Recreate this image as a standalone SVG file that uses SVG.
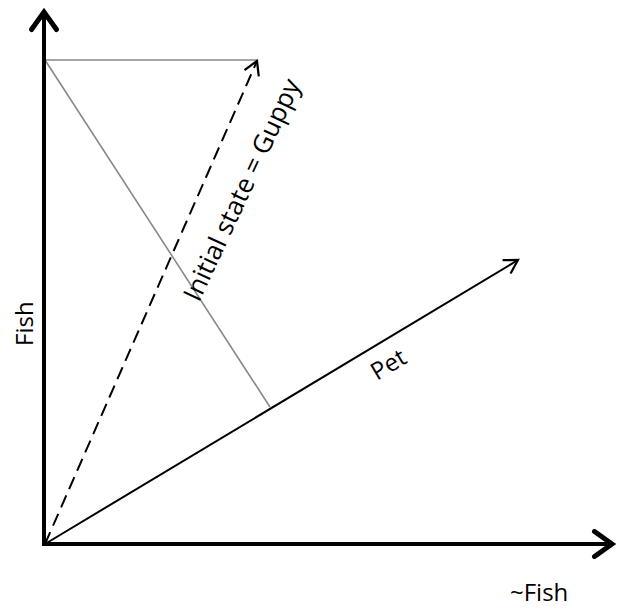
<svg xmlns="http://www.w3.org/2000/svg" width="617" height="609" viewBox="0 0 617 609">
<style>
.lbl{font-family:"Open Sans","Liberation Sans",sans-serif;font-size:24px;fill:#000}
.gray{stroke:#888;stroke-width:1.6;fill:none}
</style>
<defs>
<marker id="axh" markerUnits="userSpaceOnUse" markerWidth="30" markerHeight="30" viewBox="-16 -12 20 24" refX="0" refY="0" orient="auto">
<path d="M-14,-10 L0,0 L-14,10" fill="none" stroke="#000" stroke-width="4" stroke-linecap="round" stroke-linejoin="miter"/>
</marker>
<marker id="th" markerUnits="userSpaceOnUse" markerWidth="20" markerHeight="20" viewBox="-14 -9 16 18" refX="0" refY="0" orient="auto">
<path d="M-12,-7 L0,0 L-12,7" fill="none" stroke="#000" stroke-width="2"/>
</marker>
</defs>
<g id="connectors">
<line class="gray" x1="45" y1="60" x2="257" y2="60"/>
<line class="gray" x1="45" y1="60" x2="270" y2="407"/>
<line x1="45" y1="544" x2="257" y2="61" stroke="#000" stroke-width="2" stroke-dasharray="13,7" marker-end="url(#th)"/>
<line x1="45" y1="544" x2="518" y2="260" stroke="#000" stroke-width="2" marker-end="url(#th)"/>
<line x1="44" y1="546" x2="44" y2="12" stroke="#000" stroke-width="4" marker-end="url(#axh)"/>
<line x1="42" y1="544" x2="612" y2="544" stroke="#000" stroke-width="4" marker-end="url(#axh)"/>
</g>
<g id="label-fish"><text class="lbl" transform="translate(33,346) rotate(-90)">Fish</text></g>
<g id="label-notfish"><text class="lbl" x="510" y="601">~Fish</text></g>
<g id="label-pet"><text class="lbl" transform="translate(377,381) rotate(-31)">Pet</text></g>
<g id="label-initial"><text class="lbl" transform="translate(199,303) rotate(-65)" style="font-size:26px">Initial state = Guppy</text></g>
</svg>
